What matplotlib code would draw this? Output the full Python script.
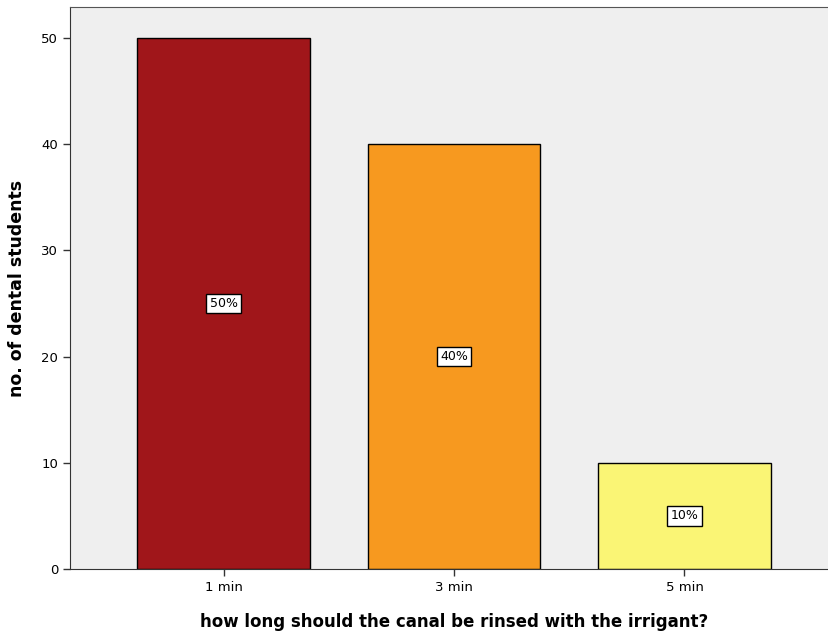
import numpy as np
import matplotlib
matplotlib.use("Agg")
import matplotlib.pyplot as plt

categories = ["1 min", "3 min", "5 min"]
counts = [50, 40, 10]
percents = ["50%", "40%", "10%"]
colors = ["#A0161A", "#F7991F", "#FAF575"]

fig = plt.figure(figsize=(8.29, 6.35), dpi=100)
ax = fig.add_axes([70/829, 66/635, 768/829, 562/635])
ax.set_facecolor("#EFEFEF")

x = np.arange(len(categories))
ax.bar(x, counts, width=0.75, color=colors, edgecolor="black", linewidth=1, zorder=2)

for xi, c, p in zip(x, counts, percents):
    ax.text(xi, c / 2, p, ha="center", va="center", fontsize=9,
            bbox=dict(boxstyle="square,pad=0.25", facecolor="white", edgecolor="black", linewidth=1),
            zorder=3)

ax.set_xlim(-0.666, 2.666)
ax.set_ylim(0, 52.9)
ax.set_yticks([0, 10, 20, 30, 40, 50])
ax.set_xticks(x)
ax.set_xticklabels(categories)
ax.tick_params(axis="both", labelsize=9.5, length=5, width=1, color="#333333")

ax.spines["right"].set_visible(False)
for s in ["left", "bottom"]:
    ax.spines[s].set_color("#333333")
ax.spines["top"].set_color("#555555")

ax.set_xlabel("how long should the canal be rinsed with the irrigant?", fontsize=12,
              fontweight="bold", labelpad=14)
ax.set_ylabel("no. of dental students", fontsize=12.5, fontweight="bold", labelpad=11)

fig.savefig("out.png", dpi=100)
